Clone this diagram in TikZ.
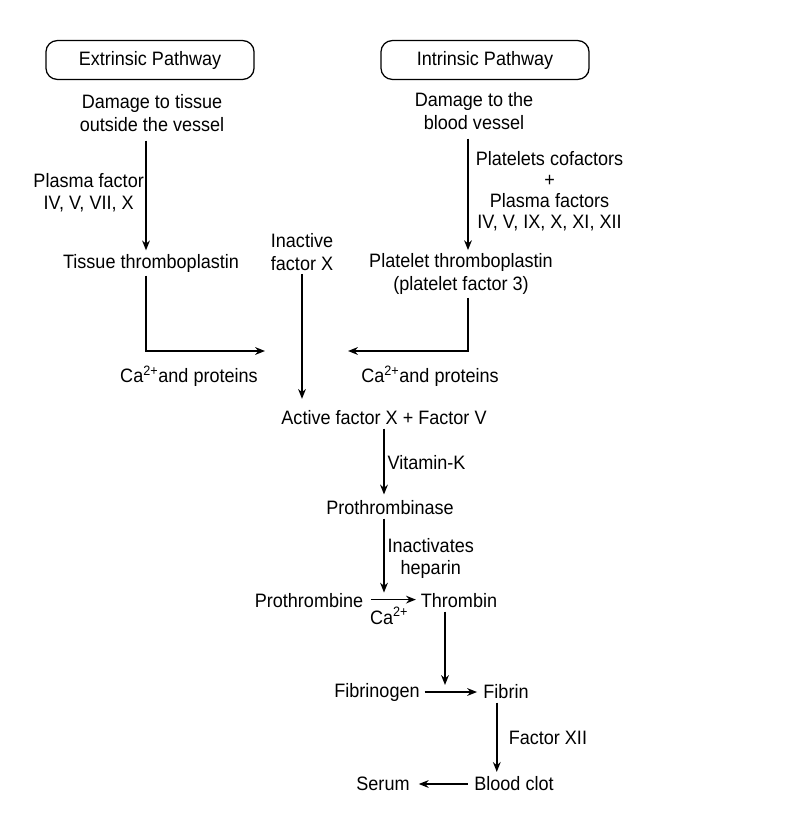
\documentclass[tikz,border=0pt]{standalone}
\usepackage{fontspec}
\setmainfont{Liberation Sans}[FakeStretch=0.93]
\usetikzlibrary{arrows.meta}
\begin{document}
\begin{tikzpicture}[x=0.025cm, y=-0.025cm, line width=1.1pt, >={Stealth[length=7pt,width=5.5pt]},
    every node/.style={font=\fontsize{13.8}{16}\selectfont, align=center, inner sep=2pt},
    pathbox/.style={draw, line width=0.9pt, rounded corners=8pt, minimum width=5.2cm, minimum height=0.97cm}]
    \useasboundingbox (0,0) rectangle (795,828);
    \node[pathbox] (ext) at (150,60) {Extrinsic Pathway};
    \node[pathbox] (int) at (485,60) {Intrinsic Pathway};
    \node (dmgT) at (152,113) {Damage to tissue\\outside the vessel};
    \node (dmgI) at (474,111) {Damage to the\\blood vessel};
    \node (tissue) at (151,263) {Tissue thromboplastin};
    \node (inact) at (302,252) {Inactive\\factor X};
    \node (platelet) at (461,274) {Platelet thromboplastin\\(platelet factor 3)};
    \coordinate (colL) at (146,0);
    \coordinate (colR) at (468,0);
    \coordinate (tipL) at (265,351);
    \coordinate (tipR) at (348,351);
    \node (caL) at (189,376) {Ca\textsuperscript{2+}and proteins};
    \node (caR) at (430,376) {Ca\textsuperscript{2+}and proteins};
    \node (act) at (384,418) {Active factor X + Factor V};
    \node (prthb) at (390,508) {Prothrombinase};
    \node (prothr) at (309,601) {Prothrombine};
    \node (thromb) at (459,601) {Thrombin};
    \node (fbgn) at (377,692) {Fibrinogen};
    \node (fbrn) at (506,692) {Fibrin};
    \node (clot) at (514,784) {Blood clot};
    \node (serum) at (383,784) {Serum};
    \coordinate (join) at (445,685);
    \draw[->, shorten <=4pt] (dmgT.south -| colL) -- node[midway, left, inner sep=1pt] {Plasma factor\\IV, V, VII, X} (tissue.north -| colL);
    \draw[->, shorten <=4pt] (dmgI.south -| colR) -- node[midway, right, inner sep=5pt, font=\fontsize{13.8}{15}\selectfont] {Platelets cofactors\\+\\Plasma factors\\IV, V, IX, X, XI, XII} (platelet.north -| colR);
    \draw[->] (tissue.south -| colL) |- (tipL);
    \draw[->] (platelet.south -| colR) |- (tipR);
    \draw[->, shorten >=6pt] (inact) -- (inact |- act.north);
    \draw[->, shorten >=2pt] (act) -- node[midway, right] {Vitamin-K} (act |- prthb.north);
    \draw[->, shorten >=4pt] (prthb.south -| act) -- node[midway, right, font=\fontsize{13.8}{15}\selectfont] {Inactivates\\heparin} ([yshift=2pt]act |- prothr);
    \draw[->, shorten <=3pt, shorten >=1pt] ([yshift=1pt]prothr.east) -- node[midway, below=3pt, xshift=-2pt] {Ca\textsuperscript{2+}} ([yshift=1pt]thromb.west);
    \draw[->] (thromb.south -| join) -- (join);
    \draw[->, shorten <=1pt, shorten >=2pt] (fbgn) -- (fbrn);
    \draw[->, shorten >=1pt] (fbrn.south -| clot.north west) ++(26,0) -- node[midway, right=6pt] {Factor XII} ([xshift=26*0.025cm]clot.north west);
    \draw[->, shorten <=2pt, shorten >=4pt] (clot) -- (serum);
\end{tikzpicture}
\end{document}
